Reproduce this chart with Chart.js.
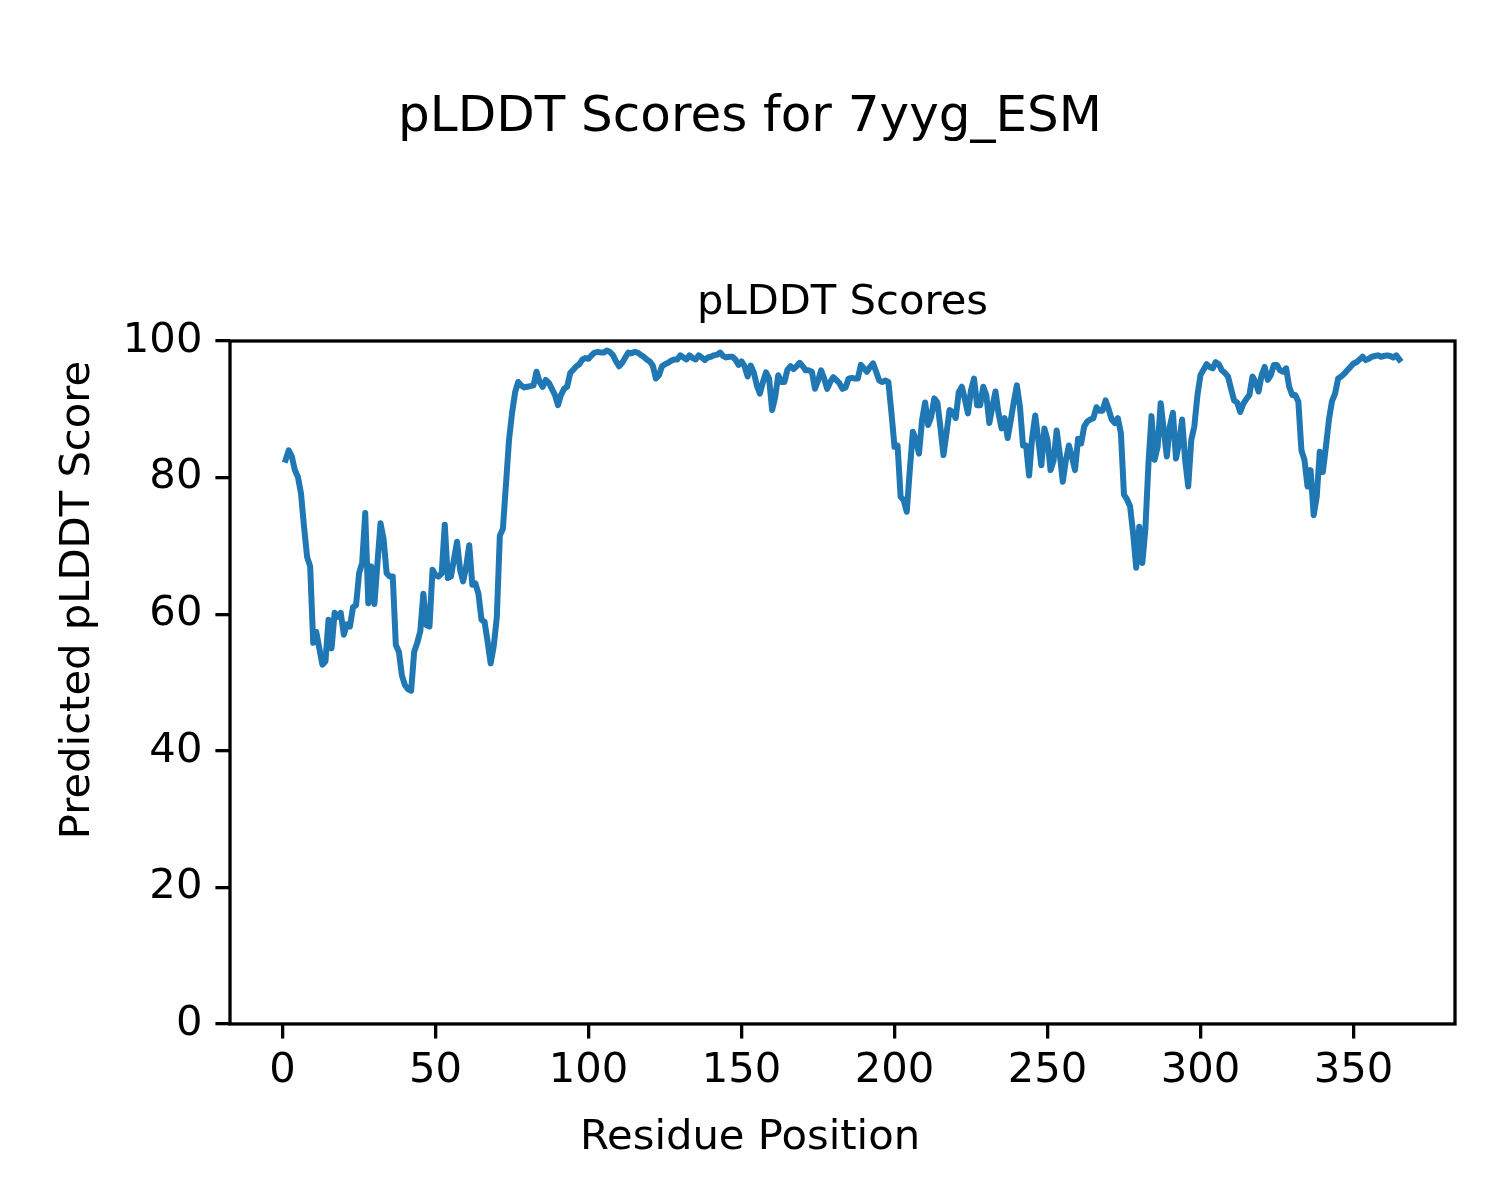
<!DOCTYPE html>
<html>
<head>
<meta charset="utf-8">
<title>pLDDT Scores for 7yyg_ESM</title>
<script src="https://cdn.jsdelivr.net/npm/chart.js@4.4.1/dist/chart.umd.min.js"></script>
<style>
  html, body { margin: 0; padding: 0; background: #fff; }
  canvas { display: block; }
</style>
</head>
<body>
<canvas id="chart-plddt" width="1500" height="1200"></canvas>
<script>
/* ================================================
   pLDDT 折線圖 — 7yyg_ESM
   ================================================ */

// 每個殘基的 pLDDT 分數（從圖上讀取，位置 1 起）
const plddtScores = [
  82.6, 84.0, 83.1, 81.1, 80.1, 77.7, 72.8, 68.4, 67.0,
  55.8, 57.4, 55.0, 52.6, 53.1, 59.2, 55.0, 60.2, 59.6, 60.2,
  57.0, 58.5, 58.2, 61.0, 61.3, 66.0, 67.5, 74.8, 61.6, 67.0,
  61.5, 67.5, 73.3, 71.0, 66.0, 65.5, 65.5, 55.5, 54.5, 51.0,
  49.6, 49.0, 48.8, 54.5, 55.8, 57.5, 63.0, 58.4, 58.2, 66.5,
  65.7, 65.5, 66.0, 73.1, 65.3, 65.5, 68.0, 70.6, 66.5, 64.8,
  67.0, 70.1, 64.3, 64.5, 63.0, 59.2, 58.9, 56.0, 52.8, 55.3,
  59.5, 71.5, 72.5, 79.0, 85.5, 89.5, 92.5, 94.0, 93.5, 93.2,
  93.3, 93.4, 93.5, 95.5, 94.0, 93.3, 94.3, 93.9, 93.0, 92.1,
  90.6, 92.1, 93.0, 93.3, 95.3, 95.8, 96.3, 96.6, 97.3, 97.5,
  97.4, 97.9, 98.3, 98.4, 98.3, 98.3, 98.6, 98.4, 97.9, 97.0,
  96.3, 96.8, 97.6, 98.3, 98.2, 98.4, 98.3, 98.0, 97.7, 97.3,
  97.0, 96.4, 94.5, 95.0, 96.3, 96.6, 96.8, 97.1, 97.3, 97.3,
  97.9, 97.6, 97.3, 97.9, 97.5, 97.3, 97.9, 97.6, 97.2, 97.6,
  97.7, 97.9, 98.0, 98.3, 97.8, 97.6, 97.7, 97.7, 97.3, 96.5,
  97.0, 96.3, 94.8, 96.4, 95.4, 93.5, 92.3, 94.0, 95.4, 94.5,
  89.9, 91.8, 95.0, 94.0, 94.0, 95.8, 96.3, 95.9, 96.3, 96.8,
  96.3, 95.7, 95.7, 95.5, 93.0, 94.2, 95.7, 94.5, 93.0, 94.0,
  94.7, 94.3, 93.8, 93.0, 93.2, 94.5, 94.6, 94.5, 94.5, 96.5,
  96.0, 95.5, 96.2, 96.7, 95.5, 94.2, 94.0, 94.2, 94.0, 89.5,
  84.5, 84.7, 77.2, 76.7, 75.0, 81.1, 86.7, 85.5, 83.5, 88.4,
  91.0, 87.7, 88.9, 91.6, 91.0, 87.4, 83.3, 86.5, 89.9, 89.6,
  88.7, 92.5, 93.3, 91.5, 89.4, 92.8, 94.5, 90.6, 90.6, 93.3,
  92.1, 88.0, 90.4, 92.6, 89.4, 87.2, 88.7, 85.8, 88.4, 91.1,
  93.5, 90.4, 84.7, 84.7, 80.3, 85.9, 89.1, 85.5, 81.8, 87.2,
  85.5, 81.1, 82.5, 86.9, 83.5, 79.4, 82.5, 84.7, 83.0, 81.1,
  85.7, 85.0, 87.5, 88.2, 88.5, 88.7, 90.3, 89.8, 89.8, 91.3,
  90.0, 88.5, 88.0, 88.7, 86.5, 77.5, 76.8, 75.8, 71.8, 66.8,
  72.8, 67.5, 72.5, 82.0, 89.0, 82.6, 84.5, 90.9, 87.0, 83.1,
  87.5, 89.5, 82.8, 85.0, 88.5, 82.6, 78.7, 85.5, 87.5, 92.0,
  95.0, 95.8, 96.6, 96.2, 96.0, 96.9, 96.6, 95.7, 95.3, 94.8,
  93.0, 91.3, 91.0, 89.6, 90.8, 91.5, 92.1, 94.8, 94.0, 92.6,
  95.0, 96.2, 94.3, 95.0, 96.5, 96.5, 95.7, 95.5, 96.0, 93.3,
  92.1, 92.1, 91.1, 84.0, 82.6, 78.7, 81.1, 74.5, 77.2, 83.8,
  80.8, 84.5, 88.5, 91.2, 92.3, 94.5, 94.8, 95.2, 95.7, 96.2,
  96.7, 96.9, 97.3, 97.7, 97.2, 97.4, 97.7, 97.8, 97.9, 97.7,
  97.8, 97.9, 97.8, 97.6, 97.9, 97.3
];

// 殘基位置（從 1 開始）
const residuePositions = plddtScores.map((_, i) => i + 1);

// 刻度
const xTicks = [0, 50, 100, 150, 200, 250, 300, 350];
const yTicks = [0, 20, 40, 60, 80, 100];

// 軸範圍（matplotlib 預設 5% 邊界）
const xRange = [-17.2, 383.2];
const yRange = [0, 100];

const FONT = 'DejaVu Sans';
const LABEL_SIZE = 41.7;
const TICK_LEN = 14.6;
const SPINE_W = 3.3;

Chart.defaults.font.family = FONT;
Chart.defaults.color = '#000';

/** 畫四邊框線 */
const framePlugin = {
  id: 'frame',
  afterDraw(chart) {
    const { ctx, chartArea: a } = chart;
    ctx.save();
    ctx.strokeStyle = '#000';
    ctx.lineWidth = SPINE_W;
    ctx.strokeRect(a.left, a.top, a.right - a.left, a.bottom - a.top);
    ctx.restore();
  }
};

// 只畫標題用的隱藏軸
const bareAxis = (extra) => Object.assign({
  type: 'linear',
  ticks: { display: false },
  grid: { display: false },
  border: { display: false }
}, extra);

new Chart(document.getElementById('chart-plddt'), {
  type: 'line',
  data: {
    datasets: [{
      label: 'pLDDT',
      data: residuePositions.map((x, i) => ({ x: x, y: plddtScores[i] })),
      borderColor: '#1f77b4',
      backgroundColor: '#1f77b4',
      borderWidth: 6,
      borderJoinStyle: 'round',
      borderCapStyle: 'square',
      pointRadius: 0,
      tension: 0,
      fill: false
    }]
  },
  options: {
    responsive: false,
    devicePixelRatio: 1,
    animation: false,
    layout: { padding: { left: 45, right: 45, top: 0, bottom: 0 } },
    plugins: {
      legend: { display: false },
      tooltip: { enabled: false },
      // 圖總標題（整張圖置中）
      title: {
        display: true,
        text: 'pLDDT Scores for 7yyg_ESM',
        color: '#000',
        font: { size: 50, weight: 'normal', lineHeight: 1.2 },
        padding: { top: 88, bottom: 130 }
      },
      // X 軸標籤（整張圖置中）
      subtitle: {
        display: true,
        position: 'bottom',
        text: 'Residue Position',
        color: '#000',
        font: { size: LABEL_SIZE, weight: 'normal', lineHeight: 1.2 },
        padding: { top: 20, bottom: 37 }
      }
    },
    scales: {
      x: {
        type: 'linear',
        position: 'bottom',
        min: xRange[0],
        max: xRange[1],
        afterBuildTicks: (s) => { s.ticks = xTicks.map(v => ({ value: v })); },
        afterFit: (s) => { s.height = 69; },
        ticks: { padding: 8, color: '#000', font: { size: LABEL_SIZE } },
        grid: {
          drawOnChartArea: false,
          drawTicks: true,
          tickLength: TICK_LEN,
          lineWidth: SPINE_W,
          color: '#000'
        },
        border: { display: false }
      },
      // 子圖標題（軸區置中）
      x2: bareAxis({
        position: 'top',
        min: xRange[0],
        max: xRange[1],
        afterFit: (s) => { s.height = 63; },
        title: {
          display: true,
          text: 'pLDDT Scores',
          color: '#000',
          font: { size: LABEL_SIZE },
          padding: { top: 0, bottom: 0 }
        }
      }),
      y: {
        type: 'linear',
        position: 'left',
        min: yRange[0],
        max: yRange[1],
        afterBuildTicks: (s) => { s.ticks = yTicks.map(v => ({ value: v })); },
        afterFit: (s) => { s.width = 125; },
        ticks: { padding: 13, color: '#000', font: { size: LABEL_SIZE } },
        grid: {
          drawOnChartArea: false,
          drawTicks: true,
          tickLength: TICK_LEN,
          lineWidth: SPINE_W,
          color: '#000'
        },
        border: { display: false }
      },
      // Y 軸標籤（整張圖高度置中）
      yLabel: bareAxis({
        position: 'left',
        fullSize: true,
        weight: 10,
        min: yRange[0],
        max: yRange[1],
        afterFit: (s) => { s.width = 60; },
        title: {
          display: true,
          text: 'Predicted pLDDT Score',
          color: '#000',
          font: { size: LABEL_SIZE },
          padding: { top: 8, bottom: 0 }
        }
      })
    }
  },
  plugins: [framePlugin]
});
</script>
</body>
</html>
